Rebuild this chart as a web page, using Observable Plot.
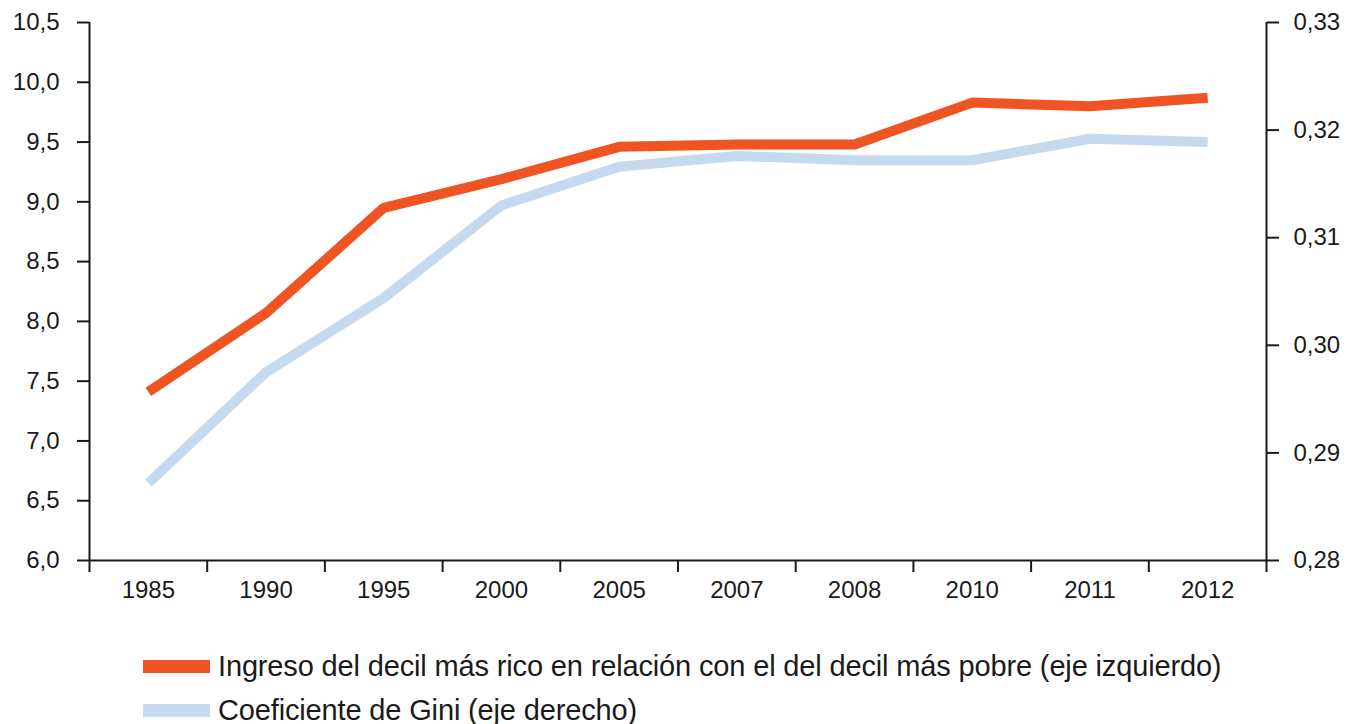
<!DOCTYPE html>
<html>
<head>
<meta charset="utf-8">
<script src="https://cdn.jsdelivr.net/npm/d3@7"></script>
<script src="https://cdn.jsdelivr.net/npm/@observablehq/plot@0.6"></script>
<style>
  body { margin: 0; background: #fff; font-family: "Liberation Sans", Arial, sans-serif; }
  #legend { margin-top: 24px; padding-left: 143px; }
  .row { display: flex; align-items: center; height: 44px; }
  .sw { width: 67px; height: 13px; margin-right: 8px; }
  .lab { font-size: 29px; letter-spacing: -0.15px; color: #1a1a1a; white-space: nowrap; }
</style>
</head>
<body>
<div id="chart"></div>
<div id="legend"></div>
<script>
const years = ["1985", "1990", "1995", "2000", "2005", "2007", "2008", "2010", "2011", "2012"];
const ratio = [7.41, 8.07, 8.95, 9.19, 9.46, 9.48, 9.48, 9.83, 9.80, 9.87];
const gini = [0.2872, 0.2975, 0.3044, 0.3130, 0.3166, 0.3176, 0.3172, 0.3172, 0.3192, 0.3189];
const leftTicks = [6, 6.5, 7, 7.5, 8, 8.5, 9, 9.5, 10, 10.5];
const rightTicks = [0.28, 0.29, 0.30, 0.31, 0.32, 0.33];
const seriesNames = [
  "Ingreso del decil más rico en relación con el del decil más pobre (eje izquierdo)",
  "Coeficiente de Gini (eje derecho)"
];
const colors = ["#F05423", "#C6DAEF"];

const leftDomain = [6, 10.5];
const rightDomain = [0.28, 0.33];
const toLeft = g => Math.round((leftDomain[0] + (g - rightDomain[0]) / (rightDomain[1] - rightDomain[0]) * (leftDomain[1] - leftDomain[0])) * 1e6) / 1e6;
const fromLeft = v => rightDomain[0] + (v - leftDomain[0]) / (leftDomain[1] - leftDomain[0]) * (rightDomain[1] - rightDomain[0]);

const ratioData = years.map((y, i) => ({i, v: ratio[i]}));
const giniData = years.map((y, i) => ({i, v: toLeft(gini[i])}));
const fmt1 = d => d.toFixed(1).replace(".", ",");
const fmt2 = d => fromLeft(d).toFixed(2).replace(".", ",");

const plot = Plot.plot({
  width: 1346,
  height: 620,
  marginLeft: 89,
  marginRight: 80,
  marginTop: 22,
  marginBottom: 60,
  style: {fontFamily: "'Liberation Sans', Arial, sans-serif", color: "#1a1a1a", background: "#fff"},
  x: {domain: [0, years.length]},
  y: {domain: leftDomain},
  marks: [
    Plot.axisY(leftTicks, {anchor: "left", tickSize: 12, tickPadding: 18, fontSize: 24, tickFormat: fmt1, label: null, strokeWidth: 2}),
    Plot.axisY(rightTicks.map(toLeft), {anchor: "right", tickSize: 12, tickPadding: 15, fontSize: 24, tickFormat: fmt2, label: null, strokeWidth: 2}),
    Plot.axisX(d3.range(years.length + 1), {tickSize: 12, tickFormat: () => "", label: null, strokeWidth: 2}),
    Plot.axisX(d3.range(years.length).map(i => i + 0.5), {tickSize: 0, tickPadding: 20, fontSize: 24, tickFormat: d => years[Math.floor(d)], label: null}),
    Plot.ruleX([0, years.length], {stroke: "#1a1a1a", strokeWidth: 2}),
    Plot.ruleY([leftDomain[0]], {stroke: "#1a1a1a", strokeWidth: 2}),
    Plot.line(giniData, {x: d => d.i + 0.5, y: "v", stroke: colors[1], strokeWidth: 10, strokeLinecap: "butt", strokeLinejoin: "round"}),
    Plot.line(ratioData, {x: d => d.i + 0.5, y: "v", stroke: colors[0], strokeWidth: 10, strokeLinecap: "butt", strokeLinejoin: "round"})
  ]
});
document.getElementById("chart").append(plot);

const legend = document.getElementById("legend");
seriesNames.forEach((name, k) => {
  const row = document.createElement("div");
  row.className = "row";
  const sw = document.createElement("div");
  sw.className = "sw";
  sw.style.background = colors[k];
  const lab = document.createElement("span");
  lab.className = "lab";
  lab.textContent = name;
  row.append(sw, lab);
  legend.append(row);
});
</script>
</body>
</html>
